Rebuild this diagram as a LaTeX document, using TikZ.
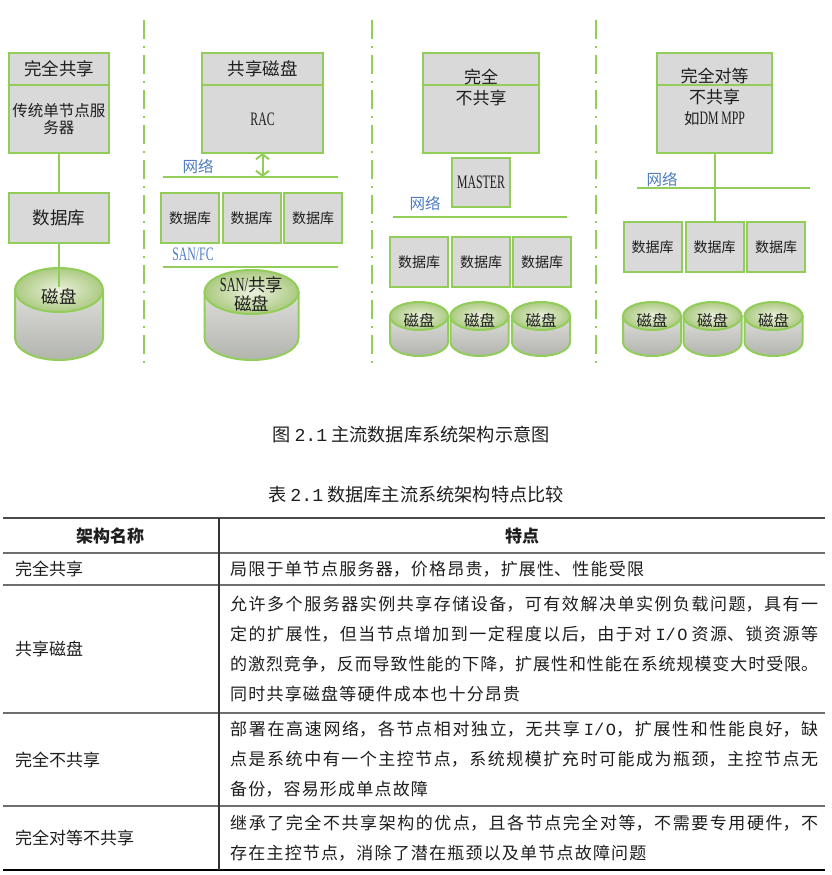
\documentclass[tikz,border=0pt]{standalone}
\usepackage{fontspec}
\setmainfont{Noto Sans CJK SC}
\setmonofont{Liberation Mono}
\newfontfamily\latfont[FakeStretch=0.62]{Liberation Serif}
\usepackage{tikz}
\usetikzlibrary{arrows.meta, positioning, calc}

\definecolor{linegreen}{RGB}{146,205,90}
\definecolor{boxgray}{RGB}{217,217,217}
\definecolor{netblue}{RGB}{79,125,190}
\definecolor{diskgrayA}{RGB}{222,222,218}
\definecolor{diskgrayB}{RGB}{178,180,174}
\definecolor{disktopA}{RGB}{236,241,222}
\definecolor{disktopB}{RGB}{172,202,130}
\definecolor{rulegray}{RGB}{110,110,110}
\definecolor{textdark}{RGB}{30,30,30}

\XeTeXlinebreaklocale "zh"
\XeTeXlinebreakskip=0pt plus 4pt
\tolerance=9999

% cylinder: centre x, top y, bottom y, x radius, y radius
\newcommand{\drawdisk}[5]{%
  \draw[disk_line, top color=diskgrayA, bottom color=diskgrayB]
    ({#1-#4},#2) -- ({#1-#4},#3)
    arc[start angle=180, end angle=0, x radius=#4, y radius=#5]
    -- ({#1+#4},#2) -- cycle;
  \draw[disk_line, inner color=disktopA, outer color=disktopB]
    (#1,#2) ellipse[x radius=#4, y radius=#5];
}

\begin{document}
\begin{tikzpicture}[
    x=1pt, y=-1pt,
    box/.style={rectangle, draw=linegreen, fill=boxgray, line width=2pt, inner sep=0pt, outer sep=0pt, align=center, text=textdark},
    head_box/.style={box, minimum width=#1, minimum height=32, font=\fontsize{17.5}{20}\selectfont},
    body_box/.style={box, minimum width=#1, minimum height=68, font=\fontsize{15.5}{17}\selectfont},
    db_box/.style={box, minimum width=100, minimum height=50, font=\fontsize{17.5}{20}\selectfont},
    small_db/.style={box, minimum width=58, minimum height=50, font=\fontsize{14}{16}\selectfont},
    box_text/.style={align=center, text=textdark, inner sep=1pt, font=\fontsize{17}{21}\selectfont},
    disk_label/.style={align=center, text=textdark, inner sep=2pt, font=\fontsize{17.5}{19}\selectfont},
    small_disk_label/.style={text=textdark, inner sep=2pt, font=\fontsize{15.5}{17}\selectfont},
    net_label/.style={text=netblue, inner sep=0pt, font=\fontsize{15.5}{17}\selectfont},
    lat_text/.style={font=\latfont\fontsize{19}{20}\selectfont},
    disk_line/.style={draw=linegreen, line width=2pt},
    net_line/.style={draw=linegreen, line width=2pt},
    link/.style={draw=linegreen, line width=2pt},
    dbl_arrow/.style={link, {Straight Barb[length=5pt,width=13pt]}-{Straight Barb[length=5pt,width=13pt]}},
    sep_line/.style={draw=linegreen, line width=2pt, dash pattern=on 19pt off 7pt on 2pt off 7pt},
    caption/.style={text=textdark, inner sep=0pt, font=\fontsize{18.2}{20}\selectfont},
    cell/.style={anchor=west, text=textdark, inner sep=0pt, font=\fontsize{17}{30}\selectfont},
    cell_text/.style={cell, text width=588, align=justify, font={\fontsize{17}{30}\selectfont\XeTeXlinebreakskip=1.2pt plus 3pt minus 0.5pt\relax}},
    head_cell/.style={text=textdark, inner sep=0pt, font=\fontsize{17}{20}\selectfont\bfseries},
    rule/.style={draw=rulegray, line width=2pt}
]
\useasboundingbox (0,0) rectangle (831,875);

% separators
\draw[sep_line] (144,20) -- (144,368);
\draw[sep_line] (372,20) -- (372,368);
\draw[sep_line] (596,20) -- (596,368);

% panel 1: shared everything
\node[head_box=100] (fshead) at (59,69) {完全共享};
\node[body_box=100, below=0pt of fshead] (fsbody) {传统单节点服\\务器};
\node[db_box] (fsdb) at (59,218) {数据库};
\drawdisk{59}{290}{338}{44}{22}
\node[disk_label] (fsdisk) at (59,297) {磁盘};
\draw[link] (fsbody) -- (fsdb);
\draw[link] (fsdb) -- (fsdisk);

% panel 2: shared disk
\node[head_box=121] (sdhead) at (262.5,69) {共享磁盘};
\node[body_box=121, below=0pt of sdhead, lat_text] (sdbody) {RAC};
\coordinate (sdnetl) at (163,177);
\coordinate (sdnetr) at (338,177);
\draw[net_line] (sdnetl) -- (sdnetr);
\node[net_label] (sdnet) at (198,166) {网络};
\draw[dbl_arrow] (sdbody.south) -- (sdbody.south |- sdnetl);
\node[small_db] (sddb1) at (190,218) {数据库};
\node[small_db] (sddb2) at (251.5,218) {数据库};
\node[small_db] (sddb3) at (313,218) {数据库};
\node[net_label, lat_text] (sdsan) at (193,254) {SAN/FC};
\draw[net_line] (163,267) -- (338,267);
\drawdisk{251.5}{292}{338}{47}{22}
\node[disk_label] (sddisk) at (251.5,294) {{\latfont\fontsize{20}{19}\selectfont SAN/}共享\\磁盘};

% panel 3: shared nothing
\node[head_box=116] (snhead) at (481,69) {};
\node[body_box=116, below=0pt of snhead] (snbody) {};
\node[box_text] (sntext) at (481,87.5) {完全\\不共享};
\node[box, minimum width=58, minimum height=49, lat_text] (snmaster) at (481,182.5) {MASTER};
\node[net_label] (snnet) at (425,203) {网络};
\draw[net_line] (393,217) -- (567,217);
\node[small_db] (sndb1) at (419,262) {数据库};
\node[small_db] (sndb2) at (481,262) {数据库};
\node[small_db] (sndb3) at (542,262) {数据库};
\drawdisk{419}{316}{342}{29}{14}
\drawdisk{479.5}{316}{342}{29}{14}
\drawdisk{541}{316}{342}{29}{14}
\node[small_disk_label] (sndisk1) at (419,320) {磁盘};
\node[small_disk_label] (sndisk2) at (479.5,320) {磁盘};
\node[small_disk_label] (sndisk3) at (541,320) {磁盘};

% panel 4: peer-to-peer shared nothing
\node[head_box=115] (mpphead) at (714.5,69) {};
\node[body_box=115, below=0pt of mpphead] (mppbody) {};
\node[box_text] (mpptext) at (714.5,96.5) {完全对等\\不共享\\{\fontsize{15.5}{17}\selectfont 如\latfont\fontsize{19}{17}\selectfont DM MPP}};
\node[net_label] (mppnet) at (662,179) {网络};
\draw[net_line] (637,188) -- (810,188);
\node[small_db] (mppdb1) at (652.5,247) {数据库};
\node[small_db] (mppdb2) at (714.5,247) {数据库};
\node[small_db] (mppdb3) at (776,247) {数据库};
\draw[link] (mppbody.south -| mppdb2) -- (mppdb2.north);
\drawdisk{652}{316}{342}{29}{14}
\drawdisk{712.5}{316}{342}{29}{14}
\drawdisk{773.5}{316}{342}{29}{14}
\node[small_disk_label] (mppdisk1) at (652,320) {磁盘};
\node[small_disk_label] (mppdisk2) at (712.5,320) {磁盘};
\node[small_disk_label] (mppdisk3) at (773.5,320) {磁盘};

% captions
\node[caption] (figcap) at (411,435) {图 \texttt{2.1} 主流数据库系统架构示意图};
\node[caption] (tabcap) at (416,495) {表 \texttt{2.1} 数据库主流系统架构特点比较};

% table rules
\draw[rule, draw=black!70] (3,518) -- (825,518);
\draw[rule] (3,553) -- (825,553);
\draw[rule] (3,585) -- (825,585);
\draw[rule] (3,713) -- (825,713);
\draw[rule] (3,806) -- (825,806);
\draw[rule, draw=black, line width=2.5pt] (3,870) -- (825,870);
\draw[draw=black!80, line width=1.5pt] (219,518) -- (219,870);

% table cells
\node[head_cell] (hname) at (110,536) {架构名称};
\node[head_cell] (hfeat) at (522,536) {特点};
\node[cell] (r1name) at (15,569) {完全共享};
\node[cell_text] (r1text) at (230,569) {局限于单节点服务器，价格昂贵，扩展性、性能受限};
\node[cell] (r2name) at (15,649) {共享磁盘};
\node[cell_text] (r2text) at (230,649) {允许多个服务器实例共享存储设备，可有效解决单实例负载问题，具有一\linebreak 定的扩展性，但当节点增加到一定程度以后，由于对 \texttt{I/O} 资源、锁资源等\linebreak 的激烈竞争，反而导致性能的下降，扩展性和性能在系统规模变大时受限。\linebreak 同时共享磁盘等硬件成本也十分昂贵};
\node[cell] (r3name) at (15,759.5) {完全不共享};
\node[cell_text] (r3text) at (230,759.5) {部署在高速网络，各节点相对独立，无共享 \texttt{I/O}，扩展性和性能良好，缺\linebreak 点是系统中有一个主控节点，系统规模扩充时可能成为瓶颈，主控节点无\linebreak 备份，容易形成单点故障};
\node[cell] (r4name) at (15,838) {完全对等不共享};
\node[cell_text] (r4text) at (230,838) {继承了完全不共享架构的优点，且各节点完全对等，不需要专用硬件，不\linebreak 存在主控节点，消除了潜在瓶颈以及单节点故障问题};

\end{tikzpicture}
\end{document}
